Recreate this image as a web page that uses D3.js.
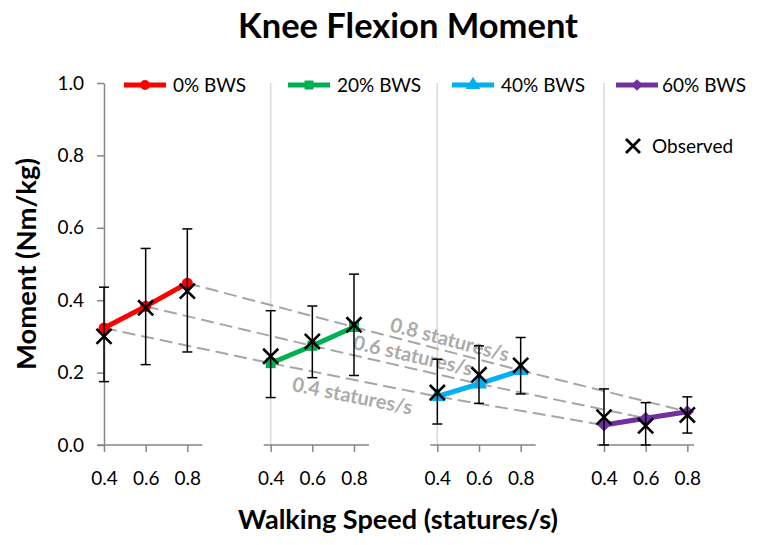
<!DOCTYPE html>
<html><head><meta charset="utf-8">
<script src="https://cdn.jsdelivr.net/npm/d3@7"></script>
<style>body{margin:0;background:#fff}svg{display:block}text{font-family:Lato,'Open Sans',sans-serif}</style>
</head><body><svg id="c" width="765" height="545"></svg>
<script>
// ---------- data ----------
const groups = ["0% BWS", "20% BWS", "40% BWS", "60% BWS"];
const speeds = [0.4, 0.6, 0.8];
const yTicks = [0, 0.2, 0.4, 0.6, 0.8, 1.0];
const model0 = [0.323, 0.383, 0.447];
const model20 = [0.226, 0.274, 0.326];
const model40 = [0.134, 0.169, 0.206];
const model60 = [0.055, 0.074, 0.092];
const observed0 = [0.300, 0.379, 0.425];
const observed20 = [0.245, 0.286, 0.332];
const observed40 = [0.145, 0.194, 0.220];
const observed60 = [0.077, 0.053, 0.083];
const upper0 = [0.436, 0.543, 0.597], lower0 = [0.175, 0.222, 0.257];
const upper20 = [0.371, 0.384, 0.472], lower20 = [0.131, 0.186, 0.192];
const upper40 = [0.237, 0.274, 0.297], lower40 = [0.058, 0.115, 0.141];
const upper60 = [0.155, 0.117, 0.133], lower60 = [0.000, 0.000, 0.033];

const models = [model0, model20, model40, model60];
const observed = [observed0, observed20, observed40, observed60];
const uppers = [upper0, upper20, upper40, upper60];
const lowers = [lower0, lower20, lower40, lower60];
const colors = ["#ff0000", "#00b050", "#00b0f0", "#7030a0"];
const shapes = [d3.symbolCircle, d3.symbolSquare, d3.symbolTriangle, d3.symbolSquare];
const shapeSize = [95, 100, 110, 85];
const shapeRot = [0, 0, 0, 45];

// ---------- layout ----------
const svg = d3.select("#c");
const span = 0.8;
const y = d3.scaleLinear().domain([0, 1]).range([445, 83]);
const x = d3.scaleLinear().domain([0.4, 0.4 + 3 * span]).range([104, 604]);
const px = (g, s) => x(g * span + s);
const axisGray = "#868686", gridGray = "#d9d9d9", dashGray = "#a6a6a6";
const tickFont = 19;

function fit(sel, w) {
  const cur = sel.node().getComputedTextLength();
  const fs = parseFloat(sel.attr("font-size"));
  sel.attr("font-size", fs * w / cur);
}

// group separator lines
svg.append("g").selectAll("line").data([1, 2, 3]).join("line")
  .attr("x1", g => px(g, 0.4)).attr("x2", g => px(g, 0.4))
  .attr("y1", y(1)).attr("y2", y(0))
  .attr("stroke", gridGray).attr("stroke-width", 1.5);

// y axis
const ya = svg.append("g").attr("transform", `translate(${px(0, 0.4)},0)`)
  .call(d3.axisLeft(y).tickValues(yTicks).tickFormat(d3.format(".1f"))
    .tickSize(7).tickPadding(13).tickSizeOuter(0));
ya.select(".domain").attr("stroke", axisGray).attr("stroke-width", 1.5);
ya.selectAll(".tick line").attr("stroke", axisGray).attr("stroke-width", 1.5);
ya.selectAll(".tick text").attr("font-size", tickFont).attr("fill", "#000")
  .attr("font-family", "Lato,'Open Sans',sans-serif");

// x axes per group
groups.forEach((name, g) => {
  const gs = d3.scaleLinear().domain([0.4, 0.8]).range([px(g, 0.4), px(g, 0.8)]);
  const right = Math.min(px(g, 0.8) + 15, 694);
  svg.append("line").attr("x1", px(g, 0.4) - 7).attr("x2", right)
    .attr("y1", y(0)).attr("y2", y(0)).attr("stroke", axisGray).attr("stroke-width", 1.5);
  const xa = svg.append("g").attr("transform", `translate(0,${y(0)})`)
    .call(d3.axisBottom(gs).tickValues(speeds).tickFormat(d3.format(".1f"))
      .tickSize(7).tickPadding(20).tickSizeOuter(0));
  xa.select(".domain").remove();
  xa.selectAll(".tick line").attr("stroke", axisGray).attr("stroke-width", 1.5);
  xa.selectAll(".tick text").attr("font-size", tickFont).attr("fill", "#000")
    .attr("font-family", "Lato,'Open Sans',sans-serif");
});

// dashed iso-speed lines
const line = d3.line();
speeds.forEach((s, i) => {
  const pts = groups.map((_, g) => [px(g, s), y(models[g][i])]);
  svg.append("path").attr("d", line(pts)).attr("fill", "none")
    .attr("stroke", dashGray).attr("stroke-width", 2).attr("stroke-dasharray", "13,6");
});

// labels on dashed lines
const labT = [0.509, 0.587, 0.557];
const labOff = [16, -13, -12];
speeds.forEach((s, i) => {
  const p1 = [px(1, s), y(models[1][i])], p2 = [px(2, s), y(models[2][i])];
  const ang = Math.atan2(p2[1] - p1[1], p2[0] - p1[0]);
  const t = labT[i];
  const cx = p1[0] + t * (p2[0] - p1[0]) - Math.sin(ang) * labOff[i];
  const cy = p1[1] + t * (p2[1] - p1[1]) + Math.cos(ang) * labOff[i];
  const lt = svg.append("text").attr("transform", `translate(${cx},${cy}) rotate(${ang * 180 / Math.PI})`)
    .attr("text-anchor", "middle").attr("dy", "0.35em")
    .attr("font-size", 20).attr("font-weight", "bold").attr("fill", "#ababab")
    .text(`${s.toFixed(1)} statures/s`);
  fit(lt, 122);
});

// model lines + markers
groups.forEach((name, g) => {
  const pts = speeds.map((s, i) => [px(g, s), y(models[g][i])]);
  svg.append("path").attr("d", line(pts)).attr("fill", "none")
    .attr("stroke", colors[g]).attr("stroke-width", 5);
  svg.append("g").selectAll("path").data(pts).join("path")
    .attr("d", d3.symbol(shapes[g], shapeSize[g]))
    .attr("transform", d => `translate(${d[0]},${d[1]}) rotate(${shapeRot[g]})`)
    .attr("fill", colors[g]);
});

// error bars
groups.forEach((name, g) => {
  speeds.forEach((s, i) => {
    const cx = px(g, s), y1 = y(uppers[g][i]), y2 = y(lowers[g][i]);
    const eb = svg.append("g").attr("stroke", "#000").attr("stroke-width", 1.5);
    eb.append("line").attr("x1", cx).attr("x2", cx).attr("y1", y1).attr("y2", y2);
    eb.append("line").attr("x1", cx - 5).attr("x2", cx + 5).attr("y1", y1).attr("y2", y1);
    eb.append("line").attr("x1", cx - 5).attr("x2", cx + 5).attr("y1", y2).attr("y2", y2);
  });
});

// observed X markers
const xSym = d3.symbol(d3.symbolTimes, 150);
groups.forEach((name, g) => {
  svg.append("g").selectAll("path").data(speeds).join("path")
    .attr("d", xSym)
    .attr("transform", (s, i) => `translate(${px(g, s)},${y(observed[g][i])})`)
    .attr("fill", "none").attr("stroke", "#000").attr("stroke-width", 2.6);
});

// legend
groups.forEach((name, g) => {
  const lx = 124 + g * 164, ly = 85;
  svg.append("line").attr("x1", lx).attr("x2", lx + 42).attr("y1", ly).attr("y2", ly)
    .attr("stroke", colors[g]).attr("stroke-width", 5);
  svg.append("path").attr("d", d3.symbol(shapes[g], shapeSize[g] * 0.8))
    .attr("transform", `translate(${lx + 21},${ly}) rotate(${shapeRot[g]})`).attr("fill", colors[g]);
  svg.append("text").attr("x", lx + (g === 3 ? 46 : 49)).attr("y", ly).attr("dy", "0.35em")
    .attr("font-size", 19).attr("fill", "#000").text(name);
});
svg.append("path").attr("d", d3.symbol(d3.symbolTimes, 130))
  .attr("transform", "translate(633,146)").attr("fill", "none")
  .attr("stroke", "#000").attr("stroke-width", 2.8);
svg.append("text").attr("x", 652).attr("y", 146).attr("dy", "0.35em")
  .attr("font-size", 19).attr("fill", "#000").text("Observed");

// titles
const t1 = svg.append("text").attr("x", 408).attr("y", 38).attr("text-anchor", "middle")
  .attr("font-size", 28).attr("font-weight", "bold").text("Knee Flexion Moment");
fit(t1, 340);
const t2 = svg.append("text").attr("x", 398).attr("y", 529).attr("text-anchor", "middle")
  .attr("font-size", 24).attr("font-weight", "bold").text("Walking Speed (statures/s)");
fit(t2, 320);
const t3 = svg.append("text").attr("transform", "translate(36,264) rotate(-90)")
  .attr("text-anchor", "middle").attr("font-size", 24).attr("font-weight", "bold")
  .text("Moment (Nm/kg)");
fit(t3, 212);
</script></body></html>
